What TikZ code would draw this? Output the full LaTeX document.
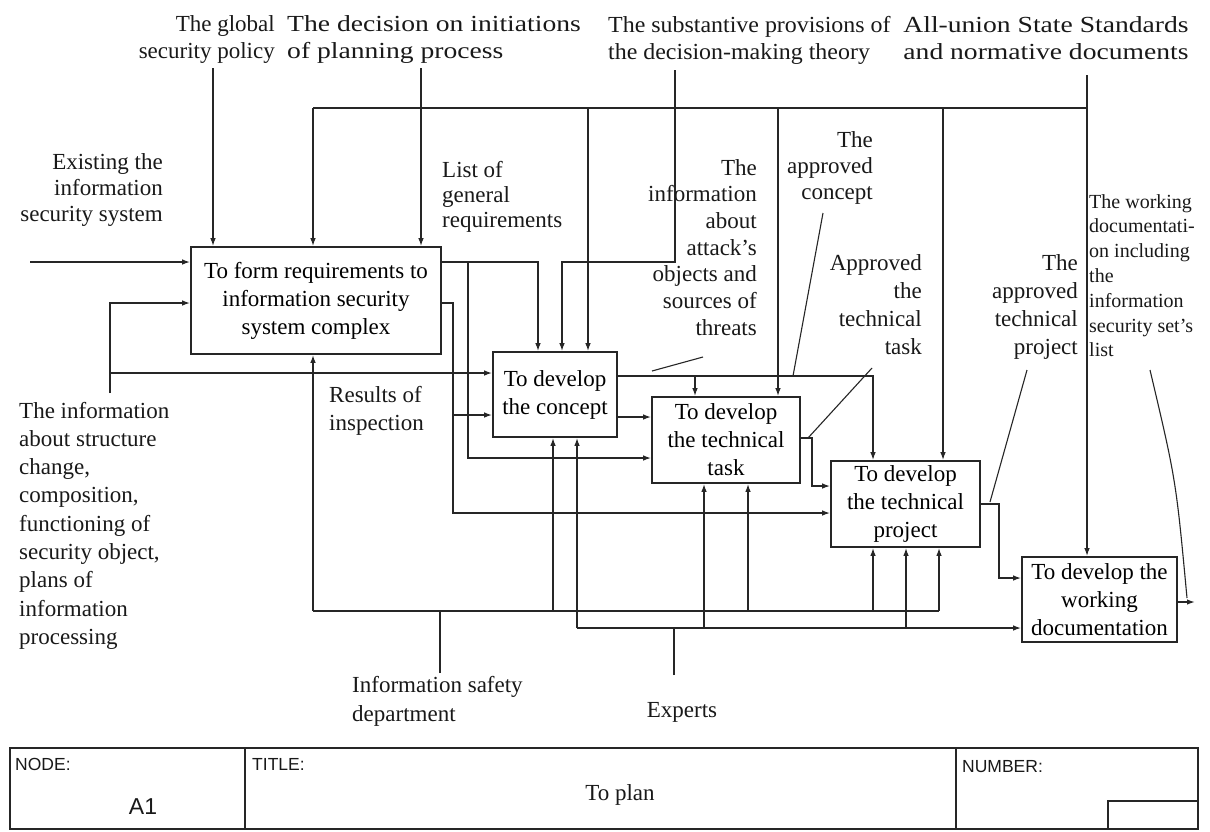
\documentclass[tikz,border=0pt]{standalone}
\usepackage{fontspec}
\setmainfont{Liberation Serif}
\newfontfamily\arialfont{Liberation Sans}
\usepackage{graphicx}
\usetikzlibrary{arrows.meta}
\newcommand{\Rl}[1]{\vtop{\halign{\hfil##\cr#1\crcr}}}
\newcommand{\Ll}[1]{\vtop{\halign{##\hfil\cr#1\crcr}}}
\newcommand{\Cl}[1]{\vtop{\halign{\hfil##\hfil\cr#1\crcr}}}
\newcommand{\fs}[2]{\fontsize{#1}{#2}\selectfont}
\begin{document}
\begin{tikzpicture}[x=1pt,y=-1pt,
  ln/.style={line width=1.5pt,draw=black!85},
  arr/.style={ln,-{Latex[length=8pt,width=5.5pt]}},
  callout/.style={line width=1.1pt,draw=black!85},
  box/.style={draw=black!85,line width=1.6pt,inner sep=0pt,align=center,font=\fs{23}{28}},
  lbl/.style={inner sep=0pt,font=\fs{23}{27.5},text=black!90},
  small/.style={inner sep=0pt,font=\fs{20}{24.8},text=black!90},
  tb/.style={inner sep=0pt,font=\arialfont\fs{17.5}{20},text=black!90}
]
\fill[white] (0,0) rectangle (1210,831);
\useasboundingbox (0,0) rectangle (1210,831);

% ---------- activity boxes ----------
\node[box,minimum width=250pt,minimum height=107pt] (A) at (316,300.5) {To form requirements to\\information security\\system complex};
\node[box,minimum width=124pt,minimum height=85pt] (B) at (555,394.5) {To develop\\the concept};
\node[box,minimum width=148pt,minimum height=86pt] (C) at (726,440) {To develop\\the technical\\task};
\node[box,minimum width=149pt,minimum height=86pt] (D) at (905.5,504) {To develop\\the technical\\project};
\node[box,minimum width=155pt,minimum height=85pt] (E) at (1099.5,599.5) {To develop the\\working\\documentation};

% ---------- free ends ----------
\coordinate (gp) at (213,68);
\coordinate (dec) at (421,68);
\coordinate (sub) at (675,70);
\coordinate (au) at (1087,75);
\coordinate (ex) at (30,262);
\coordinate (st) at (110,393);
\coordinate (isd) at (440,673);
\coordinate (exp) at (674,675);
\coordinate (out) at (1195,602);
\coordinate (busL) at (313,108);
\coordinate (busR) at (1087,108);

% ---------- controls ----------
\draw[arr] (gp) -- (gp |- A.north);
\draw[arr] (dec) -- (dec |- A.north);
\draw[ln] (busL) -- (busR);
\draw[arr] (busL) -- (busL |- A.north);
\draw[arr] (588,108) -- (588,108 |- B.north);
\draw[arr] (778,108) -- (778,108 |- C.north);
\draw[arr] (943,108) -- (943,108 |- D.north);
\draw[arr] (au) -- (au |- E.north);
\draw[arr] (sub) -- (675,262) -- (562,262) -- (562,262 |- B.north);

% ---------- outputs of A ----------
\draw[arr] (A.east |- 0,262) -- (538,262) -- (538,262 |- B.north);
\draw[arr] (468,262) -- (468,458) -- (C.west |- 0,458);
\draw[arr] (A.east |- 0,303) -- (453,303) -- (453,513) -- (D.west |- 0,513);
\draw[arr] (453,415) -- (B.west |- 0,415);

% ---------- inputs of A ----------
\draw[arr] (ex) -- (A.west |- ex);
\draw[arr] (st) -- (110,303) -- (A.west |- 0,303);
\draw[arr] (110,373) -- (B.west |- 0,373);

% ---------- outputs of B, C, D, E ----------
\draw[arr] (B.east |- 0,376) -- (873,376) -- (873,376 |- D.north);
\draw[arr] (695,376) -- (695,376 |- C.north);
\draw[arr] (B.east |- 0,417) -- (C.west |- 0,417);
\draw[arr] (C.east |- 0,438) -- (812,438) -- (812,486) -- (D.west |- 0,486);
\draw[arr] (D.east |- 0,504) -- (999,504) -- (999,578) -- (E.west |- 0,578);
\draw[arr] (E.east |- out) -- (out);

% ---------- mechanisms ----------
\draw[ln] (isd) -- (440,611);
\draw[ln] (313,611) -- (939,611);
\draw[arr] (313,611) -- (313,611 |- A.south);
\draw[arr] (553,611) -- (553,611 |- B.south);
\draw[arr] (748,611) -- (748,611 |- C.south);
\draw[arr] (873,611) -- (873,611 |- D.south);
\draw[arr] (939,611) -- (939,611 |- D.south);
\draw[ln] (exp) -- (674,628);
\draw[arr] (577,628) -- (E.west |- 0,628);
\draw[arr] (577,628) -- (577,628 |- B.south);
\draw[arr] (704,628) -- (704,628 |- C.south);
\draw[arr] (906,628) -- (906,628 |- D.south);

% ---------- labels ----------
\node[lbl,anchor=base east] (lgp) at (275,31) {\Rl{The global\cr security policy}};
\node[lbl,anchor=base west] (ldec) at (287,31) {\scalebox{1.2}[1]{\Ll{The decision on initiations\cr of planning process}}};
\node[lbl,anchor=base west] (lsub) at (608,32) {\scalebox{1.04}[1]{\Ll{The substantive provisions of\cr the decision-making theory}}};
\node[lbl,anchor=base] (lau) at (1046,32) {\scalebox{1.2}[1]{\Cl{All-union State Standards\cr and normative documents}}};
\node[lbl,anchor=base east,font=\fs{23}{26}] (lex) at (163,169) {\Rl{Existing the\cr information\cr security system}};
\node[lbl,anchor=base west,font=\fs{23}{25}] (llist) at (442,177) {\Ll{List of\cr general\cr requirements}};
\node[lbl,anchor=base east,font=\fs{23}{26.7}] (lattack) at (757,175) {\Rl{The\cr information\cr about\cr attack's\cr objects and\cr sources of\cr threats}};
\node[lbl,anchor=base east,font=\fs{23}{26}] (lconc) at (873,147) {\Rl{The\cr approved\cr concept}};
\node[lbl,anchor=base east,font=\fs{23}{28.3}] (ltask) at (922,270) {\Rl{Approved\cr the\cr technical\cr task}};
\node[lbl,anchor=base east,font=\fs{23}{28.3}] (lproj) at (1078,270) {\Rl{The\cr approved\cr technical\cr project}};
\node[small,anchor=base west] (lwork) at (1089,208) {\Ll{The working\cr documentati-\cr on including\cr the\cr information\cr security set's\cr list}};
\node[lbl,anchor=base west,font=\fs{23}{28}] (lres) at (329,402) {\Ll{Results of\cr inspection}};
\node[lbl,anchor=base west,font=\fs{23}{28.3}] (lstr) at (19,418) {\Ll{The information\cr about structure\cr change,\cr composition,\cr functioning of\cr security object,\cr plans of\cr information\cr processing}};
\node[lbl,anchor=base west,font=\fs{23}{29}] (lisd) at (352,692) {\Ll{Information safety\cr department}};
\node[lbl,anchor=base] (lexp) at (682,717) {Experts};

% ---------- callouts ----------
\draw[callout] (703,357) -- (652,371);
\draw[callout] (823,213) -- (793,376);
\draw[callout] (872,368) -- (808,438);
\draw[callout] (1027,370) -- (990,502);
\draw[callout] (1150,370) .. controls (1176,480) .. (1187,598);

% ---------- title block ----------
\draw[ln,line width=1.3pt] (10,748) rectangle (1198,829);
\draw[ln,line width=1.3pt] (245,748) -- (245,829);
\draw[ln,line width=1.3pt] (956,748) -- (956,829);
\draw[ln,line width=1.3pt] (1108,829) |- (1198,801);
\node[tb,anchor=base west] (tnode) at (15,770) {NODE:};
\node[tb,anchor=base west] (ttitle) at (252,770) {TITLE:};
\node[tb,anchor=base west] (tnum) at (962,772) {NUMBER:};
\node[inner sep=0pt,font=\arialfont\fs{23}{26},text=black!90] (tA1) at (143,807) {A1};
\node[lbl] (tplan) at (620,795) {To plan};
\end{tikzpicture}
\end{document}
